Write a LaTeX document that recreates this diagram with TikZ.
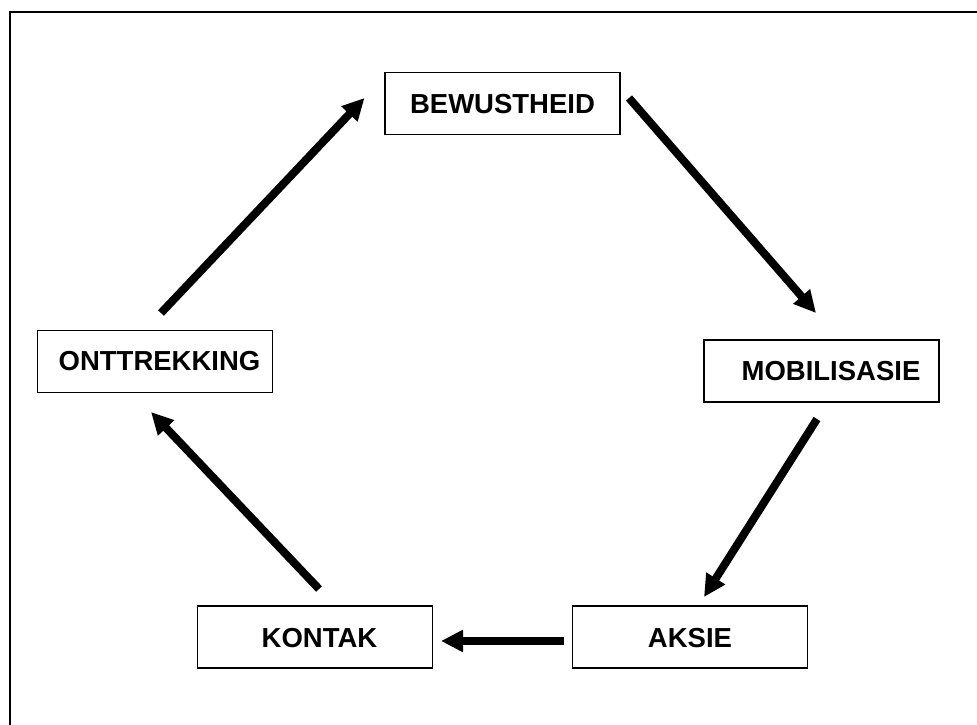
\documentclass[tikz,border=0pt]{standalone}
\usepackage{fontspec}
\setmainfont{Liberation Sans}
\usetikzlibrary{arrows.meta}
\begin{document}
\begin{tikzpicture}[x=1pt,y=-1pt,
  box/.style={draw=black,line width=1.3pt,minimum width=235pt,minimum height=62pt,inner sep=0pt},
  lbl/.style={font=\fontsize{27.5}{30}\selectfont\bfseries,inner sep=0pt,anchor=center},
  arr/.style={line width=8pt,-{Triangle[length=22pt,width=21pt]}}]
\useasboundingbox (0,0) rectangle (977,724);
\draw[line width=1.5pt] (10,12) rectangle (1000,760);
% boxes
\node[box] (bew) at (502.5,103.5) {};
\node[box] (mob) at (821.5,371) {};
\node[box] (aks) at (690,637) {};
\node[box] (kon) at (315,637) {};
\node[box] (ont) at (155,361.5) {};
% labels
\node[lbl] (tbew) at (502.5,104) {BEWUSTHEID};
\node[lbl] (tmob) at (831,371) {MOBILISASIE};
\node[lbl] (taks) at (690,638) {AKSIE};
\node[lbl] (tkon) at (319.5,638) {KONTAK};
\node[lbl] (tont) at (159.5,361.5) {ONTTREKKING};
% arrow end points
\coordinate (a1s) at (161,313);
\coordinate (a1e) at (364.5,98);
\coordinate (a2s) at (629,98);
\coordinate (a2e) at (816,313);
\coordinate (a3s) at (817,419);
\coordinate (a3e) at (704,597);
\coordinate (a4s) at (564,641);
\coordinate (a4e) at (441,641);
\coordinate (a5s) at (319,589);
\coordinate (a5e) at (151,412);
\draw[arr] (a1s) -- (a1e);
\draw[arr] (a2s) -- (a2e);
\draw[arr] (a3s) -- (a3e);
\draw[arr] (a4s) -- (a4e);
\draw[arr] (a5s) -- (a5e);
\end{tikzpicture}
\end{document}
